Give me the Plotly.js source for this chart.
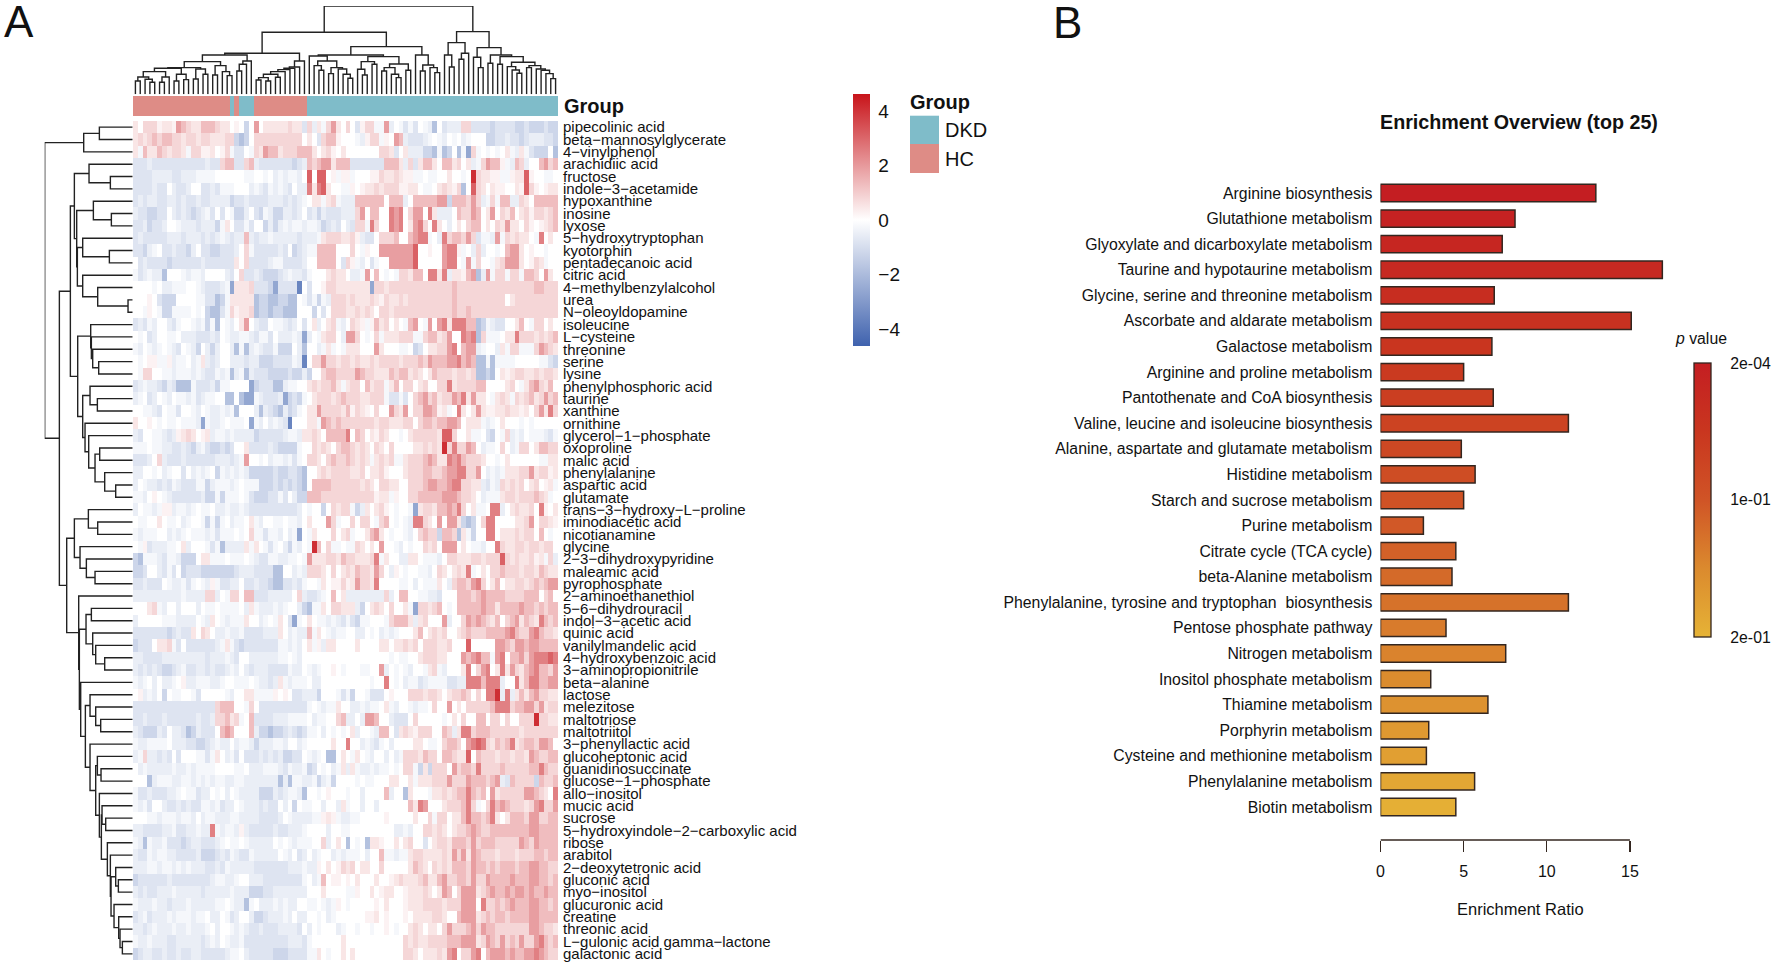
<!DOCTYPE html>
<html>
<head>
<meta charset="utf-8">
<script src="https://cdn.plot.ly/plotly-3.0.1.min.js"></script>
<style>html,body{margin:0;padding:0;background:#fff}#chart{width:1772px;height:965px}</style>
</head>
<body>
<div id="chart"></div>
<script>
const rowLabels = ["pipecolinic acid","beta−mannosylglycerate","4−vinylphenol","arachidiic acid","fructose","indole−3−acetamide","hypoxanthine","inosine","lyxose","5−hydroxytryptophan","kyotorphin","pentadecanoic acid","citric acid","4−methylbenzylalcohol","urea","N−oleoyldopamine","isoleucine","L−cysteine","threonine","serine","lysine","phenylphosphoric acid","taurine","xanthine","ornithine","glycerol−1−phosphate","oxoproline","malic acid","phenylalanine","aspartic acid","glutamate","trans−3−hydroxy−L−proline","iminodiacetic acid","nicotianamine","glycine","2−3−dihydroxypyridine","maleamic acid","pyrophosphate","2−aminoethanethiol","5−6−dihydrouracil","indol−3−acetic acid","quinic acid","vanilylmandelic acid","4−hydroxybenzoic acid","3−aminopropionitrile","beta−alanine","lactose","melezitose","maltotriose","maltotriitol","3−phenyllactic acid","glucoheptonic acid","guanidinosuccinate","glucose−1−phosphate","allo−inositol","mucic acid","sucrose","5−hydroxyindole−2−carboxylic acid","ribose","arabitol","2−deoxytetronic acid","gluconic acid","myo−inositol","glucuronic acid","creatine","threonic acid","L−gulonic acid gamma−lactone","galactonic acid"];

// each letter is one estimated cell value, see cellLevels
const cellLevels = {a:-3.6,b:-2.6,c:-1.8,d:-1.2,e:-0.8,f:-0.5,g:-0.25,h:0,i:0.25,j:0.5,k:0.8,l:1.3,m:1.9,n:2.5,o:3.1,p:4.1};
const heatRows = [
"jhkkkijjiml kjjlllkjjhi hdhmhjjjjjk jjekfjgkmjh kheikkggmfh gegehgfchef ffkkeeeedee eeddedddedd",
"jkjklkllkkj kkjkkjjjkkd cdhkkkkkkkk kkhjhekllih hhgfikkgihm lfeeefghgfh ghfghhhddee feedefffeed",
"jgljjlkjkkj gkkiijhikge ehgkjmlljkk kllljhjkihj hhhhhhhkkje hjfffddcgcd hcgbkghghgh jgfjgedddhc",
"eeefeeeeeee eeeefeeklle eklfeeeeeee deflklmmjll leeeeeeelll jfkejlljhll jkhjfgkmlli gflkfhhlmkl",
"eeeeffffeef ffgggghhhhh hgghhghfgfg gfhohoohigi ighhhiikjjk jiigghgghhj hhghpkjjiig gijjoihhggh",
"eeeefeehfee fhheefegggh hhfgfegfgfe hffnjnojhhg gihijjkjkkk iijjhgghjkj ikchokjhjii hhjiokihijj",
"efeffeeffef eefeeffffde efeeeefffef efghjjgjkgf ffllllllhll lfhlllllmmd lllkmkfgkgl lffkjhlllll",
"feeddeehfef edefgehehgd dfhedgfddff efhefdfeeef ffkmhllhhnm nhkmmhnjfff hlkkmlhjmhk jlhjkikkjkl",
"eefdeefhhgf ffefffdgjhe egehhdfdfgf ggfggfdefeh fekkgnkhhnm nhjmnkhnjhf hjhkllhjhkj mjjhkihijkl",
"efeeeeefffe fffefefgfef flfeffgffff fefffgjkkkj jkifeehkkkl hhlmnnghfnk llkmkeggfmg kjkjjhgnhjh",
"eedfgheefee dfheeddeeef hkgeeeeefeh defggllllhh hkhgihhmmmm mmmohhihhmn nighfkfhhgh lmmjhihhghh",
"hefeeeedeee eeefeeeeeej hkeeeefggee eefhhllllhe kigfheghhmm mmmohhhhhmn nhgmgkhhgjk mmmjhikjghh",
"gefgffchhhg fggfhhhhfeh keefedddefg ffeghhhjkjj hffgmhlhghg kkjllhnnjnf jjilmcfmgkk gkkgllkhmjh",
"hhhhghffggg hhgfeeefgbj jjkeeedbeee eahehhikkjj jjjjjbkkjkk kkkkkkkkkkk lkkkkkkkkkk kkkkkkllkkk",
"hhhihedddhh hhggeecdgjj jjjcddccddc chgegdgfkkk jkjjjkjikjj kjkkkkkkkkk lkkkkkkkkkk hjkkkkkkkkk",
"hhgihgddggg ghghdccegki jjkcddcddcc chhhdhehkkk jjkjkjhkkjk kkkkkkkkkkk lkklkkkkkkk kkkkkkkkkkk",
"efegfhhfegh hgfgdgchgfh jmhfeehggfe fhehjfhjkgf hkjigiljkhj hglmhgmhmnj nnnllcdgfee hhjlhgkkhjh",
"hghefhhgghf ffeeefehgff ggfeggehfff gfbfhgjkkhf mmkhghkgjjj kkkggklljkm hhnmnckgggh jjnkkkjkjkl",
"gfhgfghgfeh gfdhfdfhhfc gcfgfeegddd hfchhfgjghg jjjhhhmjhhh gghdehjjkkm nhlmmfghhfj gkkgggkmlkj",
"hghiiggifgg hfgjfefhhff feffdddeeee gfahkkmkkjk kjkjjkjkkkk jkkklkmlllm mnlmlccgcgg gghhhhhgged",
"hgkkhhggfgg gfgfeegfgcf gcfeeedddde ddfdhhkllkk kkmlkkjjjlk lljkjhjlkkk jkkjkccdchj ijkkjjkjkkj",
"efgffedfecc cgeeefdgghh hhbdeeeccfg ghhjkjkkljg jkkhljkkgjl hkkhjkhhkkn jkkkkllhhhh jkhgjlmkjlh",
"fghefhgfhgg fgefgghhcch cbbgfeeefbd edghjkkkjkl kkkjjkkkgee gehklmkljkk mlnjmjjhgjk jgkjkljkmkl",
"hhggfehggeh hgfhgffgfgc hhhfcfedcfd eghjjmkkkkj likjihkhhmk jmhkkmmlijg hnjhjmjiijj kjjijhkmjnk",
"jhhihghgghg ggfbgffghgg ghbgfhfgfea hhhjjgmlklk kkkkkkjkkjj jkkhkllkllm mlhjjjgfghj hhhghghhhhh",
"fehhggfefij kjhijfggfgf fffdeeeeefg gfjjkjhllll nhlkhjikjhh ghjkkkkkjoo khhjgghedhg kfgfhgggfeg",
"ggghggffeef edfgeddedeh hjeeeefeddd dghhkjkjhkl lkjkjhkjhkh hhhjjkjkjpk nkkmlhfgghk hfgkkhjllkk",
"eeefhkfeeef eeeeeefffef gmhhghfggfg eghkkjhklkk lkjkjgjkjkg gjkkklmljjn mnlkkkjhhgh jhhhhhhggjj",
"ffhhghfghhe hfgfghdgfgf gfdddddedde edchhjkjkkk kjjkhjjkihh hjkkkllkklm mnnkkmhfgfg jjjkkmjkkij",
"fhgffefegfe eeggdfgggfg hgggdddeded edchllllkkk kkkjkjhkkjj hhkkklmmllm nnkkjjfegfk jkjkhjkhijg",
"ggfhihgfeee eeefddgdggg hgedddeegeh fddlllkkkkk kkkkkkijjgi hhkklllllmm mlkkjhfgggj kkjkkklkjgh",
"fhggfgiifgg fghgghffgff gfeeeeeeeee efhghhdhkjk kgdfjhjkihg hhgbjkkjllm lnkhjgghnnf hjkjjkhnihj",
"hgghhjhgghf ghhgdgdghfg ghjgfhhgghg gfhjhhhmkgh hkhkkhgklhg hgfnnkjhmhm mjdcdhknnhh hhjjkmhkkji",
"gfggghhfgfg hgggfgegggh ghkggeggfhf gbhgjhhhkhj kghhjlmjhgh hgfhklkkdll kcjgdhhnnhj jjkjkkhlhgh",
"hgiefffgghj fhhhgegcfff fjgjhgeghfd gfhgplhkggh ggkjhjhmhhg fhghhkjkhmm mhjhggfhhnk jjkkjkkjkkh",
"dcgggfeggfd ddhjjggghgg ghgfeeggffg ghgmjjjkkjl kkjjjkngjhh ffjjhgggfhk kjjjkkjkkko kjkjjkijgkf",
"ddehhfegehd eeeddddddde fffeeeecchh fgfkkkjhkhj kjlkkjmkhfi hghhggfhkjh jkjnghjhkkl kkkjkkjlkjj",
"eefeeehgffg eghgfigeeff heefeedccee feghhgjhiik ijmkkjnhhhh gghfhgggjhf kllkmnkhjlh jjkkjklklmm",
"ffffffffffg ffffkkfhgkk hlleeefffff hkfeefghlhj ffffffffkfh llhhggffehh hlllklmllll kkkklllhklh",
"hhhjkgfhhfh hhfhgghgggg hfjgfffgfgh hfdcggjhkkj jjfdhjkjhkh hjgbkkjklhg hlllllmlljl lllmllklkll",
"fhhhhhgggff ffhgfjhgfgg gjhhfghgjhe bghjhggfgfe gedgghhhgkl lljfjkhhhmf hhkmlmlkjlh klmjlkjnlkl",
"eeeeeeedefe ejhkjhffgff geeeefffjhf gfflgjhgfgg hhffhghfgfg hhhjlhjkjkh hjklkkkllll mnlkkmnlkkj",
"deeehjjkgeh eeeeeefgjge deeeeeeeggf gfhjgifjjhh hhjhhhhjjhj jkjkhkkkjjk hhhohhhhhmm lkmmlmmllll",
"ffeeeefffff ffffefffgfe hhffffffggh gfhhhhhhhhh hhhhhhhhhgh gghhjkkkjjh hhmlmnllgmn hllmkmnnnon",
"fefefeddefg eeffefeefgf hfefffeeeeg ffhgfghhihg hhhgghhmfhg hgfhhgjkgfh hhjnhkmnhjn jmkjlmnllkm",
"gfghfhffghi ffgggffghhg gghgffefjgf ggghffhhhhh hhhhhghhnhg hfggefgggge effnnnlnnnf hhnjlnnllmm",
"hifgfhdhggh hgehhhhhgfh hjjggggihih eefffdhhhge gdhhgeeehih hhkkkjkkjhj kklkhkhnnpf nfjljlmkkjj",
"eeeeeeeeeee eeeeeeklllh hgkheeeeeee eeeghgfggjh hffgfgghjgf hhgfgghkhhm hjhkkkkklnn nkllmmkmjkk",
"eefeeefeeee eefeefkkljk ghleeeefffg ggghfgghhkl ffhfmmlhhfe eehkhhhhhgh jhkhhllhkkh khhkkkpkkjj",
"fedddfehffe cdfeeehlmlh hhlfddcddef edegghfhghg hjfhhgfllhe jkjikkkhhlk fjnnklllkkk kkkjkkkkkkk",
"gffgggghfff eeddefgffhf ggfdfffggfh hfghhhhhjhh nhhfgfeghfh hhhjjhgghkl lkhmnonkjlk lnjkllkmmlh",
"fgkffefeheh hhggegjhfge heeefefefdd eehgfghcchj hgjhgfhhfhf gkkkjlkkhll kjjohlkkkjk kjkkjmlkkll",
"hfgfffffgff gfgggghhhhg ghfffgggfeg ffgdehghfgj fjgffgfgghg hkkgdjdkkkh mkllknkkkkl kkkkkllnlkk",
"hhhcfgggffg gfgfgfggffg gfffffffcfc ggffgdfgdhh hhghgghhhjj hhjgjjjkkkm kkkmlllklmf elkkkkdlkkl",
"geefeeeffgh ggeffhghfhg ffffdddfefg gfchhghihhh ghhfhhhhlfh hcjhhhgjjkj kllnlklhmjk kkkkmmlkjhn",
"gfgehhfeefe feeggfgeffh gfffefeehfh dhgghhfhhfj ghhfhhfhhhh hhljnmhhhjk kklnkghknlm lkkkjkmnkkm",
"hhhggfgggfg gfhfggfffgg ffffeeeefhg ffffggijigf fgghhhhhihh hhhjhhkgkkh jjlnllklnjh jlllkmmkkll",
"ffeeeeffgee ffgffngfggf ifeeeeefeef ffghhhhfhhg ghhhhhhhhhf fgfhhkkjkjh jkklmlkklll lllllmmllll",
"gfcgffgeeed effeeefghgg hgfffffhghg fggghhkfhjh chghcjjihhj hjkhhehjkkj lllkmklllkk kkkmlkmllll",
"feegfggffee eefdddefegf eegfffffhgf hefhfghhfgf ggghfhhlggf ggjkkjjjjkj mkmjmlkkkjk kkjkkkllkll",
"fffggfggfgf gfffeefegff fffeeeeeeef ffgffihjhik jkhjjhhkhhh hhjlkjhkjkj lllkmllklkl llkllmmllkk",
"deeeeeefeee eeeeefggffg hhfffeeeeee eeghfglhiih ihjhhhjhhij kjjjkljjlmk kllkmkkmlll lmlllmmllkl",
"fefeefffgff fffefffffgf ffdddeeffff fffhhhjhhhh ggihhjhijjh hijjjkjhjml hkmmmjklmll mlmmlmllmll",
"gfffgffefff gfffffgghgf fcghfffgfgf fhhgghgfgih ghhhhhihjhh hijjjkkkkjk kkmmmhnkklk lmlllmmllkl",
"efgefffgfgg gfgghffhgef hhfddefffgf hffhhghfghh hhhhiijhihh hihjjjjkkjh hlmmmjklkll kllllmmllll",
"ffefgfffgff gfffghfhhgf gfeefeeefff fehfhghhhfg hhghhghhihg hhjkjhjjhkm kkklmkmllkk kkkkkmmlkkj",
"gffgfffeeff fffefgfhgff geeeeeeeeef ffeghhhhhhj hhhhhhhhhhh hkjkjjkkkkl llmmmjkmlkm klkmkkmnlkl",
"deffeefeefe effeeeeefgg hfeeeeeddde eeeggjhghhj hjhhhhhhhhh hkkjhjjjkjm nhkkmnhlmmm lmllmmnmlkk"
];

// column group: 1 = HC, 0 = DKD
const groupCols = [1,1,1,1,1,1,1,1,1,1,1,1,1,1,1,1,1,1,1,1,0,1,0,0,0,1,1,1,1,1,1,1,1,1,1,1,0,0,0,0,0,0,0,0,0,0,0,0,0,0,0,0,0,0,0,0,0,0,0,0,0,0,0,0,0,0,0,0,0,0,0,0,0,0,0,0,0,0,0,0,0,0,0,0,0,0,0,0];
const groupNames = ["DKD","HC"];
const groupColors = ["#7FBCC9","#DE8C86"];

// dendrograms as [height, left, right], 0 = leaf
const colTree = [265,
  [186,
    [123,
      [118,
        [98,
          [80,
            [78,
              [68,[52,[40,0,0],[45,0,[36,0,0]]],[52,[36,0,0],0]],
              [60,[40,0,0],[44,0,0]]],
            [76,[46,0,0],[60,0,0]]],
          [86,[58,0,0],[68,0,[56,0,0]]]],
        [100,[90,[70,0,0],0],0]],
      [100,[82,[78,[74,[68,[60,[50,[43,0,0],[40,0,0]],[51,0,0]],0],0],0],0],0]],
    [143,
      [118,
        [115,0,[100,[86,0,[72,0,0]],[80,[62,0,0],[76,0,[60,0,[48,0,0]]]]]],
        [113,
          [98,[75,0,[58,0,0]],[90,0,0]],
          [91,[80,[70,0,0],[60,0,[50,0,0]]],[72,0,0]]]],
      [118,0,[88,[70,0,0],[80,0,[65,0,0]]]]]],
  [188,
    [155,
      [118,0,[82,0,0]],
      [123,[105,0,0],0]],
    [140,
      [111,0,[80,0,0]],
      [118,[93,0,0],
        [113,[90,0,0],
          [96,[83,0,[73,0,[63,0,0]]],
            [86,[80,0,0],[76,0,[72,0,[62,0,[47,0,0]]]]]
          ]
        ]
      ]
    ]
  ]
];

const rowTree = [264,
  [147,[100,0,0],0],
  [220,
    [187,
      [175,
        [131,0,[67,0,0]],
        [168,
          [118,0,[64,0,0]],
          [166,
            [150,0,[70,0,0]],
            [150,0,[105,0,[14,0,0]]]]]],
      [165,
        [126,0,[124,0,[120,0,[102,0,0]]]],
        [150,
          [128,0,[106,0,0]],
          [143,0,[132,0,[113,[99,0,0],[84,0,[51,0,0]]]]]]]],
    [198,
      [175,
        [133,0,[105,0,0]],
        [158,0,[139,0,[113,0,0]]]],
      [162,0,
        [160,
          [140,[124,0,0],[120,0,[111,0,[84,0,0]]]],
          [156,0,
            [142,
              [128,0,[111,0,[96,0,0]]],
              [128,0,
                [111,
                  [106,0,[95,0,0]],
                  [100,0,
                    [94,
                      [92,0,[81,0,0]],
                      [76,0,
                        [67,0,
                          [65,
                            [51,0,[43,0,0]],
                            [56,0,[42,0,[38,0,[31,0,0]]]]
                          ]
                        ]
                      ]
                    ]
                  ]
                ]
              ]
            ]
          ]
        ]
      ]
    ]
  ]
];

const pathways = ["Arginine biosynthesis","Glutathione metabolism","Glyoxylate and dicarboxylate metabolism","Taurine and hypotaurine metabolism","Glycine, serine and threonine metabolism","Ascorbate and aldarate metabolism","Galactose metabolism","Arginine and proline metabolism","Pantothenate and CoA biosynthesis","Valine, leucine and isoleucine biosynthesis","Alanine, aspartate and glutamate metabolism","Histidine metabolism","Starch and sucrose metabolism","Purine metabolism","Citrate cycle (TCA cycle)","beta-Alanine metabolism","Phenylalanine, tyrosine and tryptophan  biosynthesis","Pentose phosphate pathway","Nitrogen metabolism","Inositol phosphate metabolism","Thiamine metabolism","Porphyrin metabolism","Cysteine and methionine metabolism","Phenylalanine metabolism","Biotin metabolism"];
const enrichment = [12.95,8.09,7.32,16.95,6.84,15.08,6.7,5.0,6.78,11.3,4.86,5.69,5.0,2.58,4.53,4.3,11.3,3.94,7.53,3.02,6.46,2.9,2.76,5.66,4.53];
const pValues = [0.0004,0.008,0.016,0.024,0.032,0.04,0.048,0.056,0.064,0.072,0.08,0.088,0.096,0.104,0.112,0.12,0.128,0.136,0.144,0.152,0.16,0.168,0.176,0.185,0.195];
const pTicks = [0.0002,0.1,0.2];
const pTickText = ['2e-04','1e-01','2e-01'];

const W = 1772, H = 965;
const fx = p => p / W;
const fy = p => 1 - p / H;
const FONT = '"Liberation Sans", Arial, sans-serif';
const INK = '#222222';
const BAR_EDGE = '#33261F';

const z = heatRows.map(r => {
  const groups = r.split(' ').map(g => g.padEnd(11, g[g.length-1]).slice(0,11));
  return groups.join('').split('').map(c => cellLevels[c]);
});
const colIdx = groupCols.map((_,i)=>i);
const rowIdx = rowLabels.map((_,i)=>i);

function treePath(tree){
  const pos=[], hgt=[]; let leaf=0;
  (function walk(n){
    if(n===0) return {p:leaf++, h:0};
    const a=walk(n[1]), b=walk(n[2]);
    pos.push(a.p,a.p,b.p,b.p,null);
    hgt.push(a.h,n[0],n[0],b.h,null);
    return {p:(a.p+b.p)/2,h:n[0]};
  })(tree);
  return {pos,hgt};
}
const colPath = treePath(colTree), rowPath = treePath(rowTree);

// p value axis runs downward on the colour bar: flip the colour coordinate
const pFlip = p => 0.2002 - p;

const traces = [
  {type:'heatmap', x:colIdx, y:rowIdx, z:z, xaxis:'x', yaxis:'y', zmin:-4.62, zmax:4.62,
   colorscale:[[0,'#3F62AE'],[0.5,'#FFFFFF'],[1,'#C8141A']], xgap:0, ygap:0, hoverinfo:'skip',
   colorbar:{x:fx(852.5), xanchor:'left', y:fy(220), yanchor:'middle', lenmode:'pixels', len:252,
     thicknessmode:'pixels', thickness:17, outlinewidth:0, borderwidth:0, tickmode:'array',
     tickvals:[-4,-2,0,2,4], ticks:'outside', ticklen:5, tickcolor:'rgba(0,0,0,0)',
     tickfont:{family:FONT,size:19,color:'#111'}, xpad:0, ypad:0}},
  {type:'heatmap', x:colIdx, y:[0], z:[groupCols], xaxis:'x', yaxis:'y2', zmin:0, zmax:1,
   colorscale:[[0,groupColors[0]],[0.5,groupColors[0]],[0.5,groupColors[1]],[1,groupColors[1]]],
   showscale:false, hoverinfo:'skip'},
  {type:'scatter', mode:'lines', x:colPath.pos, y:colPath.hgt, xaxis:'x', yaxis:'y3', connectgaps:false, cliponaxis:false,
   line:{color:INK,width:1.4}, hoverinfo:'skip', showlegend:false},
  {type:'scatter', mode:'lines', x:rowPath.hgt, y:rowPath.pos, xaxis:'x2', yaxis:'y', connectgaps:false, cliponaxis:false,
   line:{color:INK,width:1.4}, hoverinfo:'skip', showlegend:false},
  {type:'bar', orientation:'h', x:enrichment, y:pathways, xaxis:'x3', yaxis:'y4', width:0.68,
   hoverinfo:'skip', showlegend:false,
   marker:{color:pValues.map(pFlip), cmin:0.0002, cmax:0.2,
     colorscale:[[0,'#E6B336'],[0.25,'#DB8A2E'],[0.5,'#D05426'],[0.75,'#C9361F'],[1,'#C41E22']],
     line:{color:BAR_EDGE,width:1.5},
     colorbar:{x:fx(1694), xanchor:'left', y:fy(500), yanchor:'middle', lenmode:'pixels', len:274,
       thicknessmode:'pixels', thickness:16.5, outlinewidth:1.3, outlinecolor:BAR_EDGE, borderwidth:0,
       tickmode:'array', tickvals:pTicks.map(pFlip), ticktext:pTickText,
       ticks:'outside', ticklen:16, tickcolor:'rgba(0,0,0,0)',
       tickfont:{family:FONT,size:15.8,color:'#111'}, xpad:0, ypad:0}}}
];

const hidden = {showgrid:false, zeroline:false, showline:false, showticklabels:false, ticks:''};
const ann = (text,x,y,size,anchor,extra) => Object.assign({text, xref:'paper', yref:'paper', x:fx(x), y:fy(y),
  xanchor:anchor, yanchor:'middle', showarrow:false, font:{family:FONT,size,color:'#111'}}, extra||{});

const layout = {
  width:W, height:H, margin:{l:0,r:0,t:0,b:0,pad:0,autoexpand:false},
  paper_bgcolor:'#fff', plot_bgcolor:'#fff', showlegend:false, font:{family:FONT,color:'#111'},
  xaxis:Object.assign({},hidden,{domain:[fx(133),fx(558)], range:[-0.5,87.5], anchor:'y'}),
  yaxis:{domain:[fy(960),fy(121)], range:[67.5,-0.5], anchor:'x', side:'right', tickmode:'array',
    tickvals:rowIdx, ticktext:rowLabels, ticks:'outside', ticklen:1, tickcolor:'rgba(0,0,0,0)',
    tickfont:{family:FONT,size:15,color:'#111'}, showgrid:false, zeroline:false, showline:false, automargin:false},
  yaxis2:{domain:[fy(116),fy(96)], range:[-0.5,0.5], anchor:'x', side:'right', tickmode:'array', tickvals:[0],
    ticktext:['<b>Group</b>'], ticks:'outside', ticklen:1, tickcolor:'rgba(0,0,0,0)',
    tickfont:{family:FONT,size:20,color:'#111'}, showgrid:false, zeroline:false, showline:false},
  yaxis3:Object.assign({},hidden,{domain:[fy(94.3),fy(6)], range:[0,265], anchor:'x'}),
  xaxis2:Object.assign({},hidden,{domain:[fx(44.7),fx(132.7)], range:[264,0], anchor:'y'}),
  xaxis3:{domain:[fx(1380.5),fx(1666.5)], range:[0,17.2], anchor:'free', position:fy(840), side:'bottom',
    tickmode:'array', tickvals:[0,5,10,15], ticks:'outside', ticklen:10.5, tickwidth:1.3, tickcolor:BAR_EDGE,
    showline:false, showgrid:false, zeroline:false, ticklabelstandoff:6,
    tickfont:{family:FONT,size:16,color:'#111'}},
  yaxis4:{domain:[fy(819.8),fy(180.2)], anchor:'x3', autorange:'reversed', type:'category', categoryorder:'array',
    categoryarray:pathways, tickmode:'array', tickvals:pathways, ticktext:pathways, ticks:'outside', ticklen:4,
    tickcolor:'rgba(0,0,0,0)', showline:false, showgrid:false, zeroline:false, automargin:false,
    tickfont:{family:FONT,size:15.8,color:'#111'}},
  shapes:[
    {type:'line',xref:'x3',yref:'paper',x0:0,x1:15,y0:fy(840),y1:fy(840),line:{color:BAR_EDGE,width:1.3}},
    {type:'rect',xref:'paper',yref:'paper',x0:fx(910),x1:fx(939),y0:fy(144),y1:fy(115.7),fillcolor:groupColors[0],line:{width:0}},
    {type:'rect',xref:'paper',yref:'paper',x0:fx(910),x1:fx(939),y0:fy(173),y1:fy(144),fillcolor:groupColors[1],line:{width:0}}
  ],
  annotations:[
    ann('A',2,21,44,'left'),
    ann('B',1051,23,44,'left'),
    ann('<b>Group</b>',908.5,102,20,'left'),
    ann(groupNames[0],943,130,20,'left'),
    ann(groupNames[1],943,159,20,'left'),
    ann('<b>Enrichment Overview (top 25)</b>',1519,122,19.7,'center'),
    ann('Enrichment Ratio',1520,909,16.5,'center'),
    ann('<i>p</i> value',1701,338,15.8,'center')
  ]
};
Plotly.newPlot('chart', traces, layout, {displayModeBar:false, staticPlot:true});
</script>
</body>
</html>
